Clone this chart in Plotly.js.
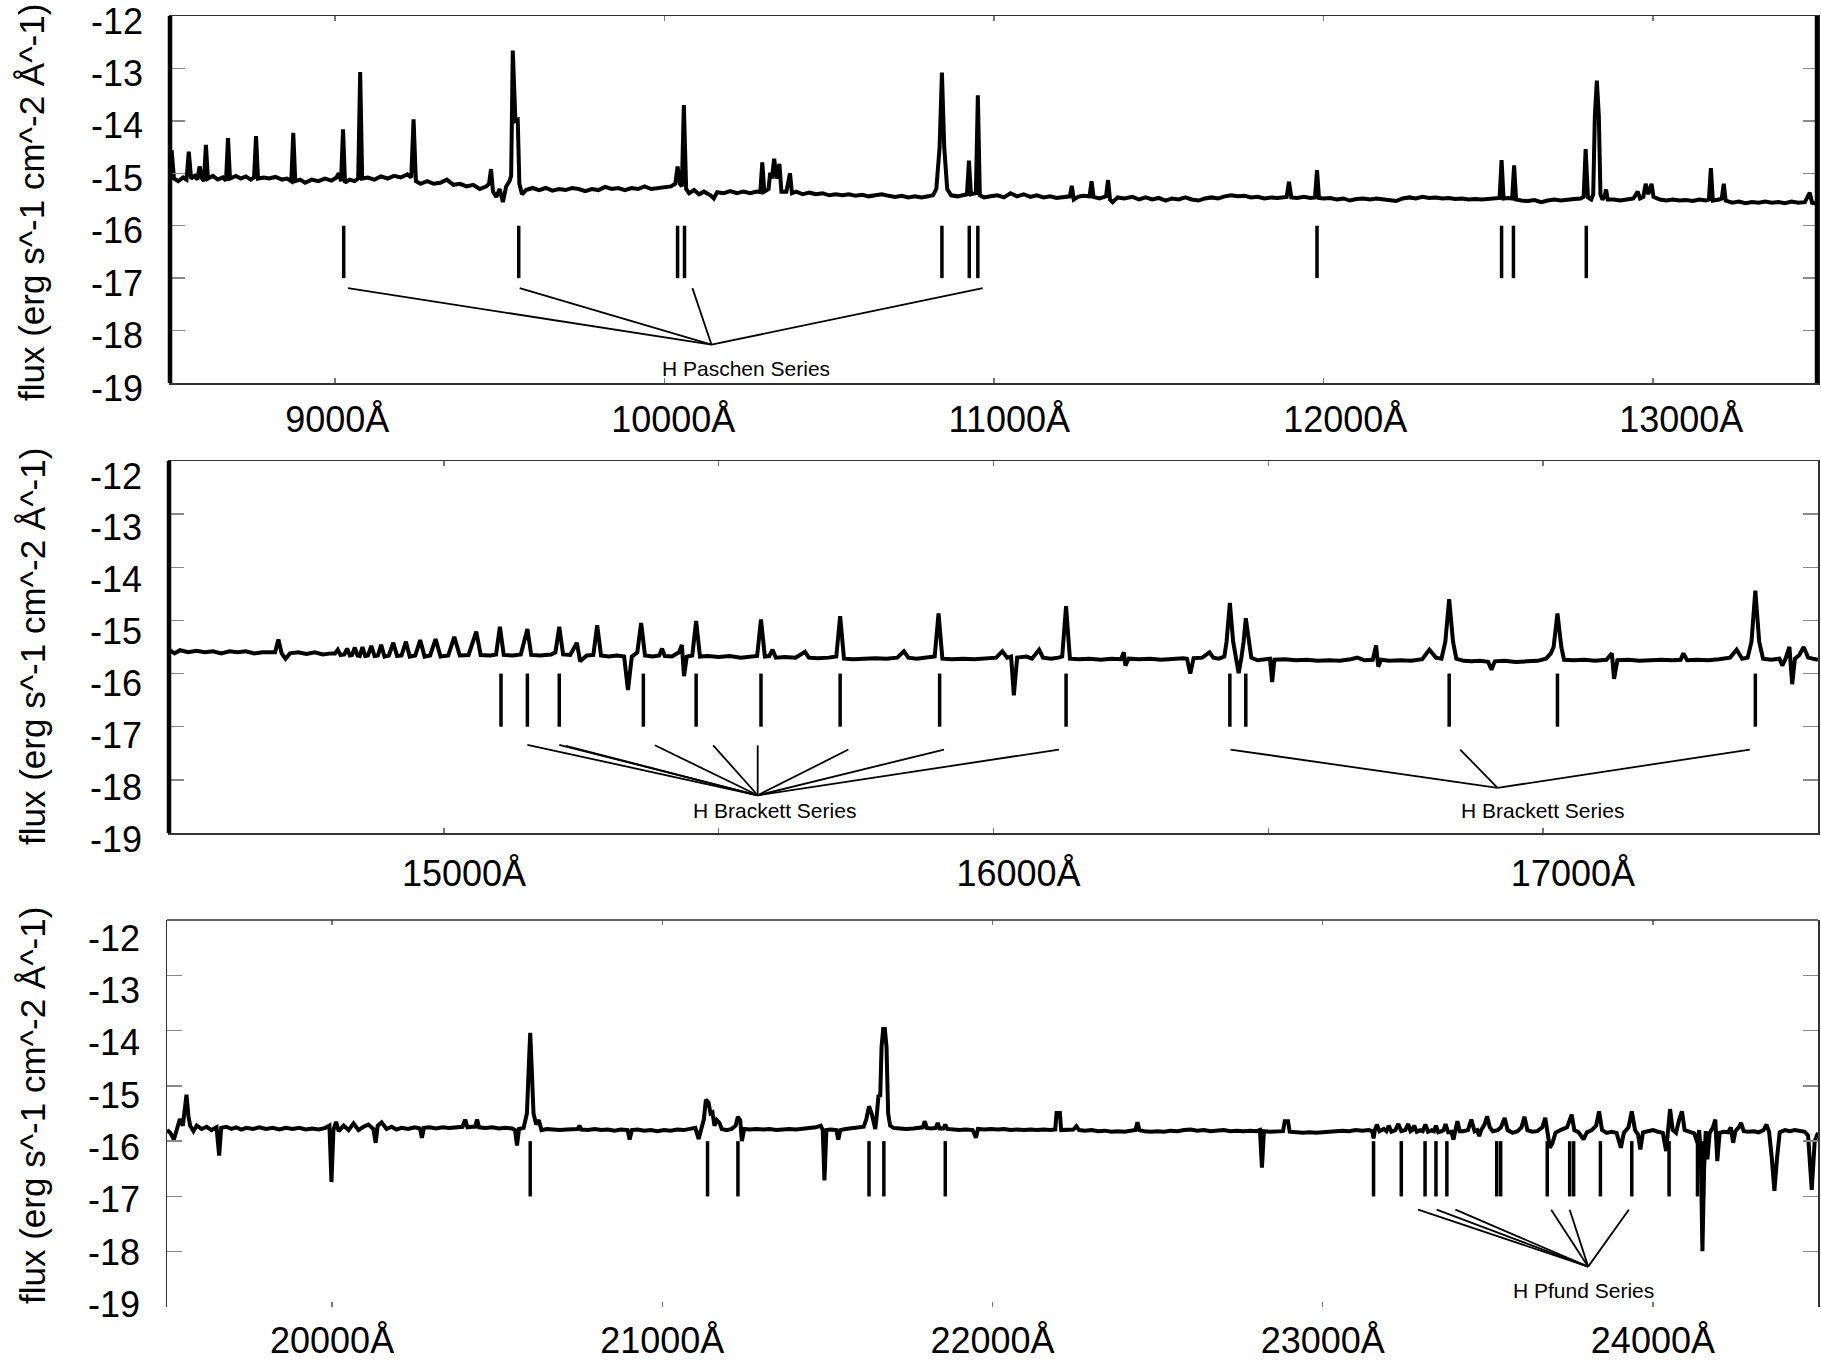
<!DOCTYPE html>
<html><head><meta charset="utf-8">
<script src="https://cdn.plot.ly/plotly-3.0.1.min.js"></script>
<style>html,body{margin:0;padding:0;background:#fff}#chart{width:1821px;height:1361px}</style>
</head><body><div id="chart"></div>
<script>
// ---------- spectrum, panel 1 (wavelength Å, log flux) ----------
const spec1 = [
[8500,-15.05],[8505,-14.56],[8512,-15.1],[8525,-15.15],[8540,-15.08],[8550,-15.12],[8557,-14.59],[8564,-15.1],
[8575,-15.05],[8583,-15.12],[8590,-14.87],[8597,-15.1],[8603,-15.15],[8609,-14.46],[8615,-15.1],[8630,-15.05],
[8645,-15.12],[8660,-15.08],[8670,-15.14],[8676,-14.33],[8682,-15.1],[8700,-15.05],[8715,-15.1],[8730,-15.06],
[8745,-15.12],[8755,-15.08],[8761,-14.29],[8767,-15.1],[8785,-15.08],[8800,-15.1],[8820,-15.07],[8840,-15.12],
[8855,-15.1],[8868,-15.15],[8874,-14.23],[8880,-15.15],[8895,-15.12],[8910,-15.18],[8930,-15.12],[8950,-15.15],
[8970,-15.1],[8990,-15.14],[9005,-15.08],[9012,-15.0],[9019,-15.15],[9025,-14.16],[9031,-15.18],[9045,-15.12],
[9060,-15.15],[9071,-15.1],[9077,-13.07],[9083,-15.1],[9100,-15.08],[9120,-15.12],[9140,-15.06],[9160,-15.1],
[9180,-15.05],[9200,-15.08],[9220,-15.02],[9232,-15.08],[9239,-13.97],[9246,-15.15],[9260,-15.2],[9280,-15.15],
[9300,-15.2],[9320,-15.18],[9340,-15.12],[9360,-15.22],[9380,-15.2],[9400,-15.25],[9420,-15.22],[9440,-15.3],
[9460,-15.25],[9468,-15.2],[9474,-14.92],[9480,-15.35],[9490,-15.45],[9500,-15.3],[9510,-15.55],[9520,-15.25],
[9530,-15.15],[9535,-15.05],[9540,-12.66],[9548,-14.0],[9555,-13.98],[9560,-15.2],[9568,-15.4],[9580,-15.32],
[9600,-15.28],[9620,-15.32],[9640,-15.28],[9660,-15.33],[9680,-15.3],[9700,-15.32],[9720,-15.28],[9740,-15.3],
[9760,-15.34],[9780,-15.3],[9800,-15.32],[9820,-15.26],[9840,-15.3],[9860,-15.28],[9880,-15.32],[9900,-15.28],
[9920,-15.3],[9940,-15.25],[9960,-15.3],[9980,-15.28],[10000,-15.26],[10020,-15.25],[10033,-15.2],[10040,-14.87],
[10047,-15.2],[10053,-15.25],[10059,-13.70],[10066,-15.3],[10075,-15.38],[10090,-15.32],[10105,-15.4],[10120,-15.35],
[10140,-15.42],[10150,-15.48],[10160,-15.36],[10180,-15.38],[10200,-15.34],[10220,-15.38],[10240,-15.35],[10260,-15.38],
[10280,-15.35],[10291,-15.36],[10297,-14.79],[10303,-15.35],[10316,-15.3],[10321,-14.99],[10326,-15.1],[10333,-14.72],
[10340,-15.1],[10349,-14.82],[10355,-15.35],[10370,-15.35],[10381,-15.0],[10387,-15.38],[10400,-15.35],[10420,-15.4],
[10440,-15.37],[10460,-15.4],[10480,-15.38],[10500,-15.42],[10520,-15.4],[10540,-15.42],[10560,-15.4],[10580,-15.43],
[10600,-15.41],[10620,-15.44],[10640,-15.42],[10660,-15.4],[10680,-15.43],[10700,-15.45],[10720,-15.43],[10740,-15.46],
[10760,-15.44],[10780,-15.46],[10800,-15.44],[10815,-15.42],[10825,-15.3],[10835,-14.5],[10842,-13.08],[10849,-14.5],
[10858,-15.3],[10870,-15.42],[10890,-15.44],[10905,-15.42],[10918,-15.4],[10924,-14.76],[10930,-15.4],[10945,-15.38],
[10951,-13.51],[10957,-15.42],[10970,-15.46],[10990,-15.44],[11010,-15.42],[11030,-15.46],[11050,-15.38],[11070,-15.44],
[11090,-15.4],[11110,-15.45],[11130,-15.42],[11150,-15.46],[11170,-15.44],[11190,-15.47],[11210,-15.45],[11230,-15.44],
[11236,-15.24],[11242,-15.5],[11255,-15.45],[11270,-15.43],[11290,-15.44],[11296,-15.15],[11302,-15.45],[11320,-15.48],
[11340,-15.44],[11346,-15.13],[11352,-15.5],[11360,-15.55],[11375,-15.46],[11395,-15.48],[11420,-15.45],[11440,-15.5],
[11460,-15.46],[11480,-15.5],[11500,-15.47],[11520,-15.52],[11540,-15.48],[11560,-15.5],[11580,-15.46],[11600,-15.5],
[11620,-15.52],[11640,-15.48],[11660,-15.46],[11680,-15.48],[11700,-15.44],[11720,-15.42],[11740,-15.44],[11760,-15.43],
[11780,-15.46],[11800,-15.45],[11820,-15.48],[11840,-15.46],[11860,-15.47],[11880,-15.46],[11888,-15.45],[11895,-15.16],
[11902,-15.46],[11920,-15.47],[11940,-15.45],[11960,-15.47],[11974,-15.46],[11980,-14.94],[11986,-15.47],[12000,-15.48],
[12020,-15.47],[12040,-15.5],[12060,-15.48],[12080,-15.52],[12100,-15.49],[12120,-15.48],[12140,-15.5],[12160,-15.48],
[12180,-15.5],[12200,-15.52],[12220,-15.53],[12240,-15.48],[12260,-15.46],[12280,-15.48],[12300,-15.45],[12320,-15.47],
[12340,-15.46],[12360,-15.48],[12380,-15.47],[12400,-15.49],[12420,-15.48],[12440,-15.5],[12460,-15.49],[12480,-15.5],
[12500,-15.49],[12520,-15.48],[12534,-15.47],[12540,-14.75],[12546,-15.48],[12560,-15.47],[12572,-15.48],[12578,-14.85],
[12584,-15.5],[12600,-15.52],[12620,-15.53],[12640,-15.51],[12660,-15.55],[12680,-15.52],[12700,-15.5],[12720,-15.52],
[12740,-15.5],[12760,-15.49],[12780,-15.48],[12789,-15.45],[12795,-14.54],[12802,-15.46],[12812,-15.5],[12818,-15.4],
[12823,-13.9],[12829,-13.23],[12835,-13.9],[12840,-15.4],[12846,-15.5],[12852,-15.45],[12857,-15.31],[12862,-15.5],
[12880,-15.5],[12900,-15.52],[12920,-15.5],[12940,-15.48],[12953,-15.35],[12960,-15.48],[12970,-15.45],[12977,-15.2],
[12985,-15.4],[12995,-15.2],[13001,-15.45],[13020,-15.5],[13040,-15.52],[13060,-15.5],[13080,-15.52],[13100,-15.51],
[13120,-15.53],[13140,-15.5],[13160,-15.52],[13169,-15.5],[13175,-14.9],[13181,-15.52],[13200,-15.5],[13208,-15.48],
[13214,-15.2],[13220,-15.52],[13240,-15.56],[13260,-15.54],[13280,-15.57],[13300,-15.55],[13320,-15.56],[13340,-15.54],
[13360,-15.56],[13380,-15.55],[13400,-15.57],[13420,-15.54],[13440,-15.56],[13460,-15.55],[13475,-15.37],[13482,-15.56],
[13500,-15.58]
];
// ---------- spectrum, panel 2 ----------
const spec2 = [
[14500,-15.55],[14510,-15.62],[14520,-15.56],[14535,-15.6],[14550,-15.57],[14565,-15.6],[14580,-15.58],[14595,-15.62],
[14610,-15.58],[14625,-15.6],[14640,-15.58],[14655,-15.62],[14670,-15.6],[14685,-15.61],[14693,-15.6],[14699,-15.36],
[14705,-15.62],[14712,-15.72],[14720,-15.62],[14735,-15.6],[14750,-15.63],[14765,-15.6],[14780,-15.64],[14795,-15.62],
[14802,-15.62],[14807,-15.55],[14812,-15.65],[14819,-15.64],[14824,-15.53],[14829,-15.66],[14833,-15.65],[14838,-15.51],
[14843,-15.66],[14847,-15.67],[14852,-15.50],[14857,-15.67],[14862,-15.66],[14868,-15.48],[14874,-15.67],[14880,-15.66],
[14886,-15.46],[14892,-15.68],[14900,-15.66],[14908,-15.42],[14915,-15.67],[14923,-15.66],[14931,-15.40],[14938,-15.68],
[14948,-15.66],[14957,-15.37],[14965,-15.68],[14975,-15.66],[14985,-15.35],[14994,-15.68],[15008,-15.66],[15019,-15.31],
[15029,-15.66],[15045,-15.65],[15059,-15.21],[15067,-15.65],[15085,-15.66],[15095,-15.64],[15102,-15.12],[15109,-15.65],
[15125,-15.66],[15140,-15.64],[15152,-15.16],[15159,-15.65],[15175,-15.66],[15195,-15.64],[15203,-15.6],[15210,-15.12],
[15217,-15.64],[15230,-15.65],[15242,-15.42],[15248,-15.77],[15260,-15.66],[15272,-15.65],[15279,-15.09],[15286,-15.66],
[15300,-15.68],[15315,-15.66],[15328,-15.68],[15335,-16.31],[15342,-15.68],[15352,-15.6],[15359,-15.05],[15366,-15.66],
[15380,-15.68],[15392,-15.66],[15397,-15.53],[15402,-15.67],[15415,-15.68],[15428,-15.6],[15433,-15.46],[15437,-16.05],
[15442,-15.68],[15452,-15.66],[15459,-15.01],[15466,-15.68],[15480,-15.67],[15500,-15.69],[15520,-15.67],[15540,-15.7],
[15560,-15.68],[15570,-15.67],[15577,-14.98],[15584,-15.68],[15592,-15.67],[15598,-15.55],[15604,-15.7],[15620,-15.69],
[15640,-15.7],[15657,-15.59],[15664,-15.7],[15680,-15.71],[15700,-15.7],[15714,-15.68],[15721,-14.92],[15728,-15.72],
[15745,-15.73],[15765,-15.72],[15785,-15.71],[15805,-15.72],[15825,-15.7],[15837,-15.58],[15845,-15.7],[15860,-15.72],
[15880,-15.7],[15893,-15.68],[15900,-14.87],[15907,-15.72],[15925,-15.73],[15945,-15.72],[15965,-15.73],[15985,-15.72],
[16005,-15.7],[16016,-15.58],[16025,-15.7],[16032,-15.68],[16037,-16.41],[16043,-15.7],[16060,-15.68],[16070,-15.72],
[16083,-15.55],[16090,-15.7],[16105,-15.72],[16118,-15.7],[16125,-15.68],[16132,-14.73],[16139,-15.72],[16155,-15.73],
[16175,-15.72],[16195,-15.74],[16215,-15.72],[16232,-15.73],[16237,-15.6],[16240,-15.85],[16246,-15.72],[16265,-15.73],
[16285,-15.72],[16305,-15.74],[16325,-15.72],[16345,-15.71],[16352,-15.72],[16358,-16.0],[16364,-15.71],[16380,-15.7],
[16393,-15.6],[16400,-15.7],[16410,-15.72],[16420,-15.68],[16424,-15.4],[16430,-14.67],[16436,-15.4],[16441,-15.7],
[16446,-15.99],[16451,-15.7],[16455,-15.4],[16459,-14.96],[16464,-15.4],[16469,-15.7],[16480,-15.75],[16495,-15.73],
[16503,-15.72],[16507,-16.16],[16511,-15.74],[16530,-15.73],[16550,-15.75],[16570,-15.74],[16590,-15.76],[16610,-15.75],
[16630,-15.76],[16650,-15.73],[16662,-15.7],[16675,-15.75],[16690,-15.74],[16696,-15.47],[16700,-15.87],[16705,-15.74],
[16720,-15.76],[16740,-15.75],[16760,-15.76],[16780,-15.73],[16793,-15.55],[16805,-15.7],[16815,-15.72],[16822,-15.4],
[16829,-14.6],[16836,-15.4],[16842,-15.72],[16855,-15.76],[16870,-15.77],[16885,-15.76],[16900,-15.78],[16906,-15.93],
[16912,-15.77],[16930,-15.76],[16950,-15.78],[16970,-15.77],[16990,-15.76],[17005,-15.72],[17014,-15.62],[17019,-15.5],
[17026,-14.87],[17033,-15.5],[17038,-15.74],[17055,-15.75],[17075,-15.74],[17095,-15.76],[17115,-15.74],[17125,-15.62],
[17129,-16.1],[17135,-15.75],[17155,-15.74],[17175,-15.76],[17195,-15.75],[17215,-15.74],[17235,-15.75],[17250,-15.74],
[17255,-15.62],[17262,-15.75],[17280,-15.74],[17300,-15.75],[17320,-15.73],[17340,-15.7],[17352,-15.55],[17362,-15.72],
[17372,-15.7],[17379,-15.4],[17386,-14.44],[17393,-15.4],[17400,-15.72],[17415,-15.74],[17430,-15.72],[17435,-15.85],
[17441,-15.72],[17448,-15.5],[17453,-16.2],[17458,-15.72],[17466,-15.65],[17474,-15.5],[17482,-15.7],[17490,-15.72],
[17500,-15.74]
];
// ---------- spectrum, panel 3 ----------
const spec3 = [
[19500,-15.8],[19510,-15.85],[19521,-15.97],[19530,-15.75],[19539,-15.60],[19548,-15.72],[19553,-15.5],[19559,-15.16],
[19565,-15.55],[19570,-15.72],[19580,-15.82],[19590,-15.72],[19605,-15.78],[19620,-15.74],[19635,-15.8],[19650,-15.75],
[19658,-16.26],[19664,-15.76],[19680,-15.74],[19695,-15.78],[19710,-15.75],[19725,-15.79],[19740,-15.76],[19760,-15.78],
[19780,-15.75],[19800,-15.78],[19820,-15.76],[19840,-15.79],[19860,-15.76],[19880,-15.78],[19900,-15.76],[19920,-15.79],
[19940,-15.77],[19960,-15.79],[19980,-15.76],[19992,-15.72],[19998,-16.74],[20004,-15.8],[20012,-15.65],[20020,-15.82],
[20035,-15.72],[20050,-15.8],[20065,-15.68],[20080,-15.8],[20095,-15.74],[20110,-15.7],[20125,-15.78],[20132,-16.03],
[20138,-15.72],[20150,-15.66],[20165,-15.78],[20180,-15.74],[20195,-15.79],[20210,-15.76],[20230,-15.78],[20250,-15.75],
[20266,-15.77],[20272,-15.94],[20278,-15.76],[20295,-15.75],[20315,-15.77],[20335,-15.75],[20355,-15.76],[20375,-15.75],
[20395,-15.74],[20403,-15.61],[20410,-15.75],[20425,-15.74],[20433,-15.74],[20439,-15.61],[20445,-15.75],[20465,-15.76],
[20485,-15.75],[20505,-15.77],[20525,-15.76],[20545,-15.77],[20554,-15.8],[20560,-16.08],[20566,-15.78],[20580,-15.76],
[20590,-15.5],[20596,-14.6],[20600,-14.04],[20604,-14.6],[20610,-15.5],[20618,-15.7],[20626,-15.62],[20634,-15.8],
[20650,-15.78],[20670,-15.79],[20690,-15.8],[20710,-15.79],[20730,-15.78],[20744,-15.78],[20749,-15.72],[20755,-15.79],
[20775,-15.8],[20795,-15.78],[20815,-15.8],[20835,-15.79],[20855,-15.81],[20875,-15.79],[20895,-15.8],[20901,-15.97],
[20908,-15.8],[20925,-15.79],[20945,-15.81],[20965,-15.8],[20985,-15.82],[21005,-15.8],[21025,-15.81],[21045,-15.79],
[21065,-15.8],[21085,-15.78],[21100,-15.76],[21110,-15.96],[21118,-15.78],[21126,-15.6],[21132,-15.25],[21140,-15.3],
[21146,-15.5],[21152,-15.48],[21158,-15.72],[21165,-15.62],[21173,-15.67],[21180,-15.78],[21195,-15.8],[21210,-15.78],
[21222,-15.72],[21229,-15.56],[21236,-15.62],[21241,-16.0],[21248,-15.78],[21265,-15.79],[21285,-15.78],[21305,-15.79],
[21325,-15.78],[21345,-15.8],[21365,-15.79],[21385,-15.78],[21405,-15.79],[21425,-15.78],[21445,-15.77],[21465,-15.75],
[21480,-15.72],[21486,-15.8],[21491,-16.71],[21497,-15.8],[21510,-15.79],[21527,-15.8],[21533,-15.97],[21539,-15.8],
[21555,-15.78],[21575,-15.77],[21595,-15.76],[21610,-15.74],[21618,-15.6],[21626,-15.37],[21634,-15.5],[21640,-15.7],
[21645,-15.78],[21650,-15.5],[21655,-15.16],[21660,-15.2],[21664,-14.3],[21669,-13.97],[21674,-13.97],[21679,-14.3],
[21684,-15.5],[21690,-15.72],[21700,-15.76],[21720,-15.77],[21740,-15.78],[21760,-15.77],[21780,-15.76],[21789,-15.75],
[21795,-15.64],[21801,-15.76],[21815,-15.77],[21828,-15.76],[21834,-15.67],[21840,-15.77],[21851,-15.77],[21857,-15.70],
[21863,-15.78],[21880,-15.79],[21900,-15.8],[21920,-15.79],[21940,-15.8],[21950,-15.94],[21956,-15.78],[21975,-15.79],
[21995,-15.78],[22015,-15.79],[22035,-15.78],[22055,-15.8],[22075,-15.79],[22095,-15.8],[22115,-15.79],[22135,-15.8],
[22155,-15.79],[22175,-15.8],[22190,-15.79],[22194,-15.49],[22204,-15.49],[22208,-15.8],[22225,-15.8],[22245,-15.79],
[22254,-15.73],[22262,-15.8],[22280,-15.81],[22300,-15.8],[22320,-15.82],[22340,-15.81],[22360,-15.83],[22380,-15.82],
[22400,-15.83],[22420,-15.82],[22433,-15.8],[22439,-15.66],[22445,-15.8],[22460,-15.82],[22480,-15.83],[22500,-15.82],
[22520,-15.83],[22540,-15.81],[22560,-15.82],[22580,-15.8],[22600,-15.79],[22620,-15.81],[22640,-15.8],[22660,-15.82],
[22680,-15.81],[22700,-15.8],[22720,-15.82],[22740,-15.81],[22760,-15.82],[22780,-15.81],[22800,-15.82],[22810,-15.8],
[22816,-16.48],[22822,-15.82],[22840,-15.83],[22860,-15.82],[22880,-15.82],[22885,-15.64],[22895,-15.64],[22900,-15.83],
[22920,-15.84],[22940,-15.85],[22960,-15.84],[22980,-15.85],[23000,-15.84],[23020,-15.83],[23040,-15.82],[23060,-15.81],
[23080,-15.82],[23100,-15.8],[23120,-15.81],[23140,-15.8],[23150,-15.82],[23154,-15.95],[23158,-15.8],[23164,-15.70],
[23172,-15.82],[23185,-15.78],[23193,-15.82],[23200,-15.72],[23208,-15.83],[23220,-15.8],[23229,-15.69],[23238,-15.82],
[23250,-15.8],[23259,-15.69],[23266,-15.82],[23271,-15.8],[23277,-15.72],[23285,-15.83],[23295,-15.8],[23303,-15.82],
[23311,-15.70],[23319,-15.83],[23330,-15.8],[23337,-15.82],[23343,-15.72],[23350,-15.84],[23360,-15.82],[23366,-15.8],
[23372,-15.69],[23380,-15.84],[23390,-15.83],[23396,-15.97],[23402,-15.8],[23408,-15.64],[23415,-15.82],[23425,-15.82],
[23440,-15.8],[23450,-15.61],[23460,-15.82],[23468,-15.8],[23474,-15.91],[23480,-15.8],[23490,-15.7],[23498,-15.55],
[23506,-15.75],[23515,-15.82],[23530,-15.8],[23540,-15.75],[23551,-15.58],[23560,-15.8],[23575,-15.85],[23590,-15.82],
[23602,-15.75],[23611,-15.56],[23620,-15.8],[23635,-15.83],[23650,-15.82],[23665,-15.75],[23674,-15.58],[23682,-15.85],
[23688,-16.12],[23695,-16.05],[23705,-15.85],[23720,-15.8],[23740,-15.75],[23754,-15.52],[23762,-15.8],[23775,-15.84],
[23790,-15.97],[23800,-15.84],[23815,-15.8],[23828,-15.72],[23837,-15.46],[23846,-15.8],[23860,-15.85],[23875,-15.83],
[23890,-15.85],[23903,-16.12],[23912,-15.85],[23926,-15.75],[23936,-15.46],[23946,-15.8],[23955,-15.88],[23962,-16.15],
[23970,-15.84],[23985,-15.82],[24000,-15.8],[24015,-15.83],[24030,-15.85],[24040,-16.18],[24046,-15.8],[24052,-15.42],
[24060,-15.8],[24070,-15.85],[24080,-15.6],[24088,-15.46],[24096,-15.8],[24110,-15.83],[24125,-15.86],[24135,-16.03],
[24140,-15.8],[24145,-16.2],[24150,-17.99],[24155,-16.5],[24160,-15.82],[24165,-16.33],[24172,-15.85],[24182,-15.75],
[24189,-15.61],[24195,-16.36],[24202,-15.85],[24215,-15.83],[24228,-15.84],[24236,-15.75],[24243,-16.03],[24250,-15.82],
[24260,-15.75],[24267,-15.67],[24275,-15.82],[24290,-15.83],[24305,-15.82],[24320,-15.84],[24335,-15.8],[24344,-15.70],
[24352,-15.84],[24360,-16.3],[24368,-16.90],[24376,-16.3],[24384,-15.84],[24400,-15.8],[24415,-15.82],[24430,-15.8],
[24445,-15.82],[24460,-15.83],[24470,-15.9],[24481,-16.88],[24490,-16.0],[24500,-15.85]
];

// ---------- line-identification marks (Å) ----------
const markTop = -16, markBottom = -17;
const marks1 = [9027, 9558, 10040, 10061, 10842, 10925, 10951, 11980, 12540, 12576, 12797];
const marks2 = [15104, 15152, 15210, 15363, 15459, 15577, 15721, 15902, 16132, 16430, 16459, 16829, 17026, 17386];
const marks3 = [20600, 21137, 21229, 21626, 21671, 21857, 23154, 23238, 23310, 23343, 23376, 23527, 23539,
                23680, 23748, 23760, 23841, 23936, 24049, 24135, 24153];

// ---------- connector lines: [start wavelength, start flux], hub ----------
const paschenStarts = [[9040,-17.19],[9561,-17.19],[10085,-17.19],[10966,-17.19]];
const paschenHub = [10143,-18.27];
const brackettAStarts = [[15152,-17.34],[15210,-17.34],[15222,-17.36],[15384,-17.35],[15490,-17.35],[15571,-17.35],
                         [15736,-17.43],[15910,-17.43],[16119,-17.43]];
const brackettAHub = [15571,-18.29];
const brackettBStarts = [[16431,-17.43],[16849,-17.43],[17376,-17.43]];
const brackettBHub = [16917,-18.15];
const pfundStarts = [[23289,-17.24],[23345,-17.24],[23402,-17.24],[23692,-17.24],[23748,-17.24],[23927,-17.24]];
const pfundHub = [23804,-18.27];

// ---------- series labels ----------
const seriesLabels = [
  {text:'H Paschen Series', x:10247, y:-18.72, xr:'x', yr:'y'},
  {text:'H Brackett Series', x:15602, y:-18.57, xr:'x2', yr:'y2'},
  {text:'H Brackett Series', x:16998, y:-18.57, xr:'x2', yr:'y2'},
  {text:'H Pfund Series', x:23791, y:-18.71, xr:'x3', yr:'y3'}
];

// ---------- ticks ----------
const yTickVals = [-19,-18,-17,-16,-15,-14,-13,-12];
const yTickText = ['-19','-18','-17','-16','-15','-14','-13','-12'];
const xTicks1 = [9000,10000,11000,12000,13000];
const xTickText1 = ['9000Å','10000Å','11000Å','12000Å','13000Å'];
const xTicks2 = [15000,15500,16000,16500,17000];
const xLabelVals2 = [15000,16000,17000];
const xTickText2 = ['15000Å','16000Å','17000Å'];
const xTicks3 = [20000,21000,22000,23000,24000];
const xTickText3 = ['20000Å','21000Å','22000Å','23000Å','24000Å'];
const yTitle = 'flux (erg s^-1 cm^-2 Å^-1)';

// ---------- build ----------
const FONT = 'Liberation Sans, Arial, Helvetica, sans-serif';
function spectrum(pairs, xa, ya){
  return {type:'scatter', mode:'lines', x:pairs.map(p=>p[0]), y:pairs.map(p=>p[1]), xaxis:xa, yaxis:ya,
          line:{color:'#000', width:4}, hoverinfo:'skip', showlegend:false};
}
function markTrace(ws, xa, ya){
  const x=[], y=[];
  ws.forEach(w=>{x.push(w,w,null); y.push(markTop,markBottom,null);});
  return {type:'scatter', mode:'lines', x, y, xaxis:xa, yaxis:ya, line:{color:'#000', width:3.5},
          hoverinfo:'skip', showlegend:false};
}
function connTrace(starts, hub, xa, ya){
  const x=[], y=[];
  starts.forEach(s=>{x.push(s[0],hub[0],null); y.push(s[1],hub[1],null);});
  return {type:'scatter', mode:'lines', x, y, xaxis:xa, yaxis:ya, line:{color:'#000', width:1.8},
          hoverinfo:'skip', showlegend:false};
}
function dummy(xa, ya){ return {type:'scatter', mode:'markers', x:[null], y:[null], xaxis:xa, yaxis:ya, hoverinfo:'skip', showlegend:false}; }

const data = [
  spectrum(spec1,'x','y'), markTrace(marks1,'x','y'), connTrace(paschenStarts,paschenHub,'x','y'),
  spectrum(spec2,'x2','y2'), markTrace(marks2,'x2','y2'),
  connTrace(brackettAStarts,brackettAHub,'x2','y2'), connTrace(brackettBStarts,brackettBHub,'x2','y2'),
  spectrum(spec3,'x3','y3'), markTrace(marks3,'x3','y3'), connTrace(pfundStarts,pfundHub,'x3','y3'),
  dummy('x4','y4'), dummy('x5','y5'), dummy('x6','y6')
];

const W=1821, H=1361;
const px = v=>v/W, py = v=>1-v/H;
const P = [
  {l:170, r:1818, t:16,  b:383},
  {l:169, r:1818, t:461, b:833},
  {l:167, r:1818, t:920, b:1307}
];
function mainX(p, range, tickvals, anchor, showline){
  return {domain:[px(p.l),px(p.r)], range, anchor, tickvals, showticklabels:false, ticks:'inside', ticklen:5,
          tickwidth:1.5, tickcolor:'#777', showline, linecolor:'#333', linewidth:1.5, mirror:'ticks',
          showgrid:false, zeroline:false, fixedrange:true};
}
function mainY(p, anchor){
  return {domain:[py(p.b),py(p.t)], range:[-19,-12], anchor, tickvals:yTickVals, showticklabels:false,
          ticks:'inside', ticklen:15, tickwidth:1.5, tickcolor:'#888', showline:true, linecolor:'#333',
          linewidth:1.5, mirror:'ticks', showgrid:false, zeroline:false, fixedrange:true};
}
function labelX(over, anchor, p, range, vals, text, standoff){
  return {overlaying:over, anchor, domain:[px(p.l),px(p.r)], range, tickvals:vals, ticktext:text, ticks:'',
          showline:false, showgrid:false, zeroline:false, side:'bottom',
          tickfont:{size:36, family:FONT, color:'#000'}, ticklabelstandoff:standoff, fixedrange:true};
}
function labelY(over, anchor, p, range, standoff, shift){
  return {overlaying:over, anchor, domain:[py(p.b),py(p.t)], range, tickvals:yTickVals, ticktext:yTickText,
          ticks:'', showline:false, showgrid:false, zeroline:false, side:'left',
          tickfont:{size:36, family:FONT, color:'#000'}, ticklabelstandoff:standoff, ticklabelshift:shift,
          ticklabeloverflow:'allow', fixedrange:true};
}

const annotations = seriesLabels.map(s=>({text:s.text, x:s.x, y:s.y, xref:s.xr, yref:s.yr, showarrow:false,
  font:{size:21, family:FONT, color:'#000'}, xanchor:'center', yanchor:'middle'}));
[203, 647, 1106].forEach(c=>annotations.push({text:yTitle, xref:'paper', yref:'paper', x:px(32), y:py(c),
  showarrow:false, textangle:-90, font:{size:35, family:FONT, color:'#000'}, xanchor:'center', yanchor:'middle'}));

const shapes = [
  {type:'line', xref:'paper', yref:'paper', x0:px(170), x1:px(170), y0:py(383), y1:py(16), line:{color:'#000', width:4.5}},
  {type:'line', xref:'paper', yref:'paper', x0:px(1817), x1:px(1817), y0:py(383), y1:py(16), line:{color:'#000', width:4.5}},
  {type:'line', xref:'paper', yref:'paper', x0:px(169), x1:px(169), y0:py(833), y1:py(461), line:{color:'#000', width:4.5}},
  {type:'line', xref:'paper', yref:'paper', x0:px(167), x1:px(1818), y0:py(920), y1:py(920), line:{color:'#333', width:1.5}}
];

const layout = {
  width:W, height:H, margin:{l:0,r:0,t:0,b:0}, paper_bgcolor:'#fff', plot_bgcolor:'rgba(0,0,0,0)',
  showlegend:false, font:{family:FONT, color:'#000'},
  xaxis:  mainX(P[0], [8500,13500], xTicks1, 'y', true),
  yaxis:  mainY(P[0], 'x'),
  xaxis2: mainX(P[1], [14500,17500], xTicks2, 'y2', true),
  yaxis2: mainY(P[1], 'x2'),
  xaxis3: mainX(P[2], [19500,24500], xTicks3, 'y3', false),
  yaxis3: mainY(P[2], 'x3'),
  xaxis4: labelX('x', 'y4', P[0], [8502,13407], xTicks1, xTickText1, 12),
  yaxis4: labelY('y', 'x4', P[0], [-19,-12], 26, 5),
  xaxis5: labelX('x2', 'y5', P[1], [14468,17442], xLabelVals2, xTickText2, 16),
  yaxis5: labelY('y2', 'x5', P[1], [-19.115,-11.942], 26, 12),
  xaxis6: labelX('x3', 'y6', P[2], [19500,24500], xTicks3, xTickText3, 9),
  yaxis6: labelY('y3', 'x6', P[2], [-19.205,-11.809], 26, 8),
  annotations, shapes
};
Plotly.newPlot('chart', data, layout, {staticPlot:true, displayModeBar:false});
</script></body></html>
